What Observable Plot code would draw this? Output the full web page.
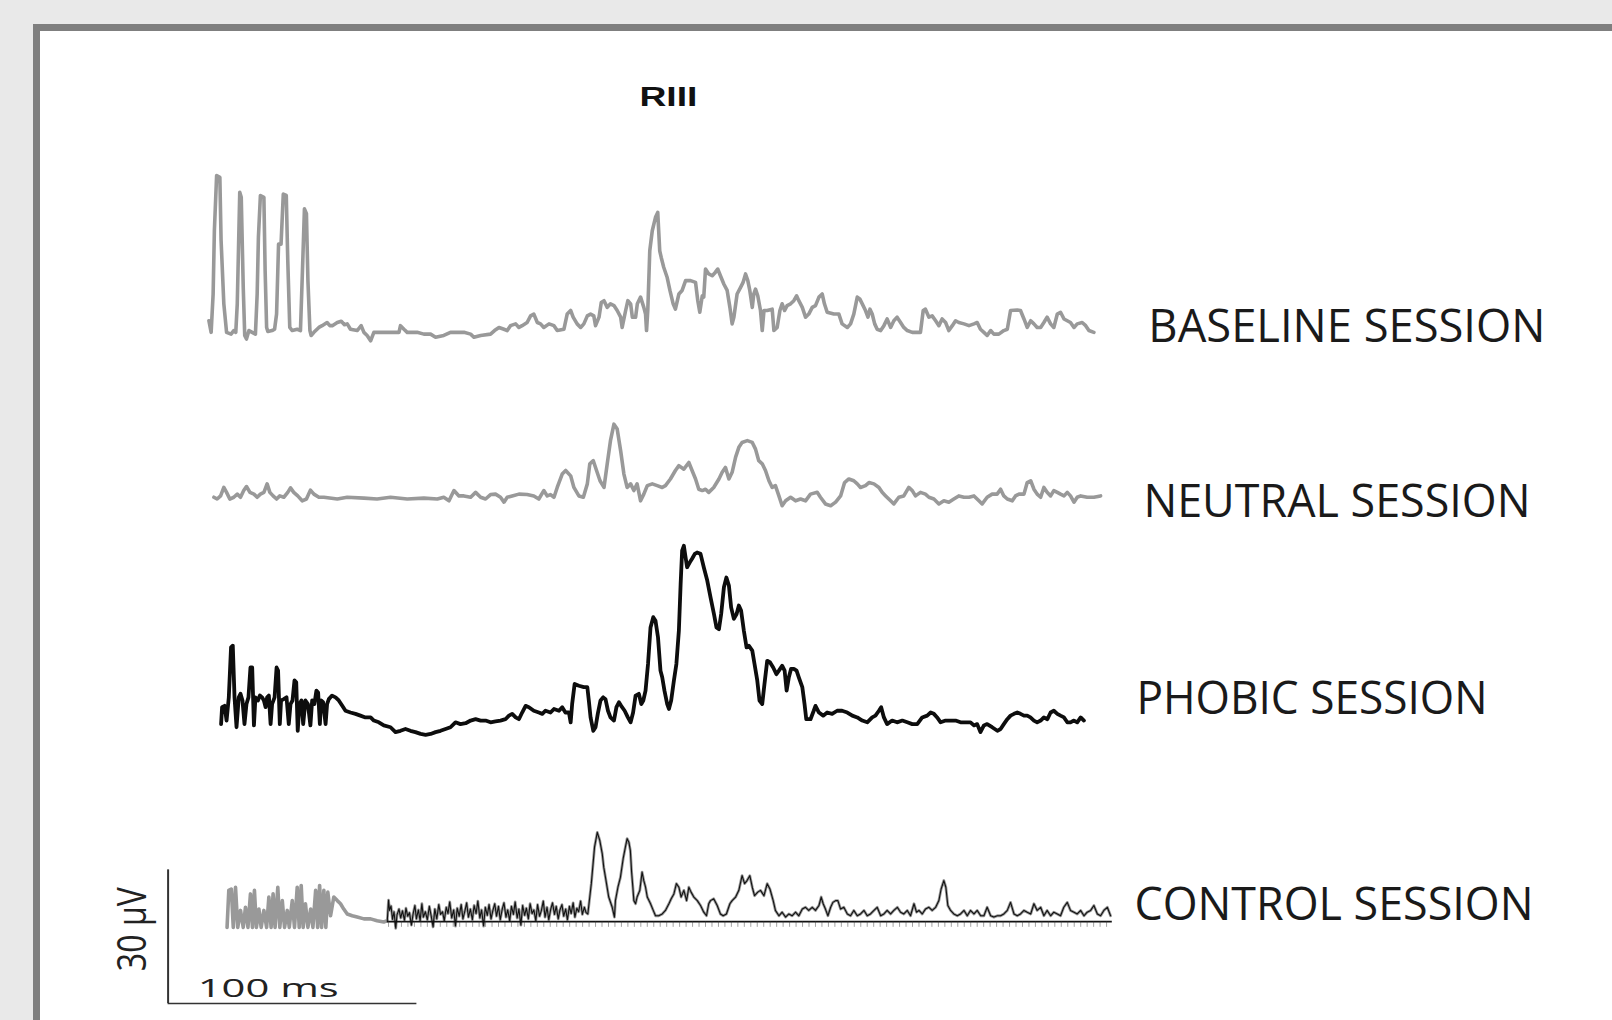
<!DOCTYPE html>
<html>
<head>
<meta charset="utf-8">
<script src="https://cdn.jsdelivr.net/npm/d3@7"></script>
<script src="https://cdn.jsdelivr.net/npm/@observablehq/plot@0.6"></script>
<style>
  html, body { margin: 0; padding: 0; background: #e9e9e9; width: 1612px; height: 1020px; overflow: hidden; }
  #frame { position: absolute; left: 33px; top: 24px; width: 1700px; height: 1100px; background: #ffffff;
           border-left: 7px solid #7f7f7f; border-top: 7px solid #7f7f7f; }
  #chart { position: absolute; left: 0; top: 0; }
</style>
</head>
<body>
<div id="frame"></div>
<div id="chart"></div>
<script>
// ---------------- DATA (time in ms, amplitude in µV) ----------------
const title = "RIII";
const sessions = ["BASELINE SESSION", "NEUTRAL SESSION", "PHOBIC SESSION", "CONTROL SESSION"];
const scaleBar = {ms: 100, uv: 30, msLabel: "100 ms", uvLabel: "30 µV"};

const baselineTrace = [
[16.4,2.6],[17.3,0],[18.1,8.6],[18.6,22.8],[19.5,35.2],[20.8,34.8],[21.3,20.6],[22.4,6.4],[23.5,0],[25.3,-0.4],[26.4,0.4],
[27.2,0],[27.8,6.4],[28.8,31.4],[29.4,30.3],[30.2,10.1],[30.8,-0.7],[31.5,-1.5],[32.5,0.4],[33.8,0],
[35.1,-0.4],[35.8,8.6],[36.3,21.3],[37.1,30.7],[38.5,30.3],[39.0,13.8],[39.6,1.1],[40.1,0.2],[41.8,0.4],
[42.8,0.7],[43.6,4.1],[44.4,19.8],[45.4,19.8],[46.3,31.0],[47.5,30.7],[48.1,16.1],[48.9,1.1],[49.9,0.4],[51.9,0.7],
[53.2,0.4],[54.0,13.8],[54.8,27.7],[55.6,26.6],[56.2,11.6],[57.0,0.4],[57.5,-0.7],
[58.6,0],[60.6,1.1],[61.9,1.5],[63.9,2.2],[65.0,1.5],[66.0,1.5],[68.0,2.2],[69.6,2.5],[70.9,1.7],[72.0,1.9],[73.3,0.7],[76.0,0.4],[77.6,1.5],[78.7,0],[80.0,-0.7],[81.4,-1.9],[82.7,0],[84.7,0],[89.4,0],[92.8,0],[93.4,1.5],[94.8,0.7],[96.1,0],[100.1,0],[102.8,-0.4],[105.5,-0.4],[107.5,-1.1],[110.8,-0.7],[113.5,0],[118.9,0],[121.6,-0.4],[122.9,-1.1],[125.6,-0.7],[129.6,-0.4],[131.2,0.4],[133.0,1.1],[135.0,0.7],[136.3,0.4],[137.6,1.5],[139.7,1.9],[141.0,1.1],[142.3,1.5],[144.3,2.2],[145.7,3.7],[147.0,4.1],[148.4,2.2],[149.7,1.9],[151.0,1.1],[153.1,1.9],[155.1,1.5],[156.4,0.4],[159.1,0.7],[160.4,4.1],[161.8,4.9],[162.8,3.4],[164.4,1.9],[165.8,1.1],[167.1,1.9],[168.5,3.7],[169.8,4.1],[171.1,3.7],[171.8,1.5],[173.2,3.4],[174.1,6.7],[175.2,7.1],[176.5,5.6],[177.8,6.4],[179.2,6.0],[180.5,4.9],[181.9,3.4],[182.5,1.1],[183.9,4.9],[184.8,7.1],[185.9,6.4],[186.6,3.4],[187.9,3.4],[188.6,6.4],[189.9,7.9],[191.2,5.6],[191.9,4.1],
[192.3,0.4],[192.8,4.9],[193.6,18.3],[194.6,22.8],[195.9,25.8],[196.8,26.9],[197.6,18.3],[198.2,16.8],[199.2,14.6],[200.6,12.3],[201.7,9.4],[203.0,6.4],[203.9,5.2],[205.3,8.6],[206.6,9.4],[208.0,11.6],[210.0,11.6],[212.0,11.2],[212.9,7.1],[213.7,4.5],[214.7,8.2],[215.3,7.9],[216.0,14.2],[217.3,13.1],[218.7,12.7],[220.0,13.5],[220.9,14.2],[222.0,12.7],[223.4,10.8],[224.7,9.4],[225.8,5.6],[226.7,1.9],[227.4,3.4],[228.7,8.6],[230.1,10.1],[231.1,11.2],[232.1,13.1],[233.0,11.6],[233.8,9.4],[234.8,5.6],[235.4,8.6],[236.1,9.7],[237.0,8.2],[238.1,4.9],[238.8,0.4],[239.5,4.9],[240.8,4.9],[242.8,5.2],[243.5,0.4],[244.8,1.1],[245.9,4.9],[246.8,6.4],[247.8,4.9],[248.8,6.0],[250.2,6.4],[251.5,7.1],[252.6,8.2],[253.5,7.1],[254.9,5.6],[256.2,3.4],[257.5,4.1],[258.9,5.6],[260.2,6.0],[261.6,7.9],[262.9,8.6],[263.8,6.4],[264.9,4.5],[267.6,4.1],[269.6,4.1],[270.9,1.9],[273.0,1.1],[274.3,1.9],[275.6,4.1],[277.0,7.9],[278.0,7.5],[279.0,6.4],[280.3,4.9],[281.3,3.4],[282.1,5.2],[283.0,4.1],[284.0,1.9],[285.0,0.7],[286.4,0.4],[287.7,1.5],[289.0,3.0],[290.4,1.1],[291.7,2.6],[293.0,3.4],[294.4,2.2],[295.7,1.1],[297.1,0.4],[299.1,0],[302.4,0],[303.5,4.9],[304.4,5.2],[305.8,3.4],[307.1,3.7],[308.5,2.6],[309.8,1.5],[311.1,3.0],[312.5,2.2],[313.8,0.4],[315.2,1.5],[316.5,2.6],[317.8,2.2],[319.9,1.9],[321.9,1.5],[323.9,1.9],[325.2,2.2],[326.5,0.7],[327.9,0],[329.2,-0.7],[330.6,0.4],[331.9,-0.4],[333.9,-0.4],[335.9,0.4],[337.3,0.7],[338.6,4.9],[341.3,5.0],[342.6,4.9],[344.0,3.0],[345.3,1.1],[346.7,2.6],[348.0,1.9],[349.3,1.1],[350.7,1.1],[352.0,2.2],[353.3,3.4],[354.7,1.9],[356.0,1.1],[357.4,4.1],[358.7,4.5],[360.1,3.0],[361.4,2.6],[362.7,2.2],[364.1,1.1],[365.4,1.9],[367.4,2.2],[368.8,1.5],[370.1,0.4],[372.1,0]
];

const neutralTrace = [
[18.4,0.1],[19.7,-0.3],[21.1,0.4],[22.4,2.3],[23.5,1.2],[24.8,-0.3],[26.4,0.1],[27.8,0.8],[29.1,0.1],[30.4,1.6],[31.5,2.5],[32.9,1.2],[34.5,0.8],[35.8,0.1],[37.1,0.8],[38.5,1.2],[39.8,3.1],[40.9,1.2],[42.2,0.4],[43.6,-0.3],[44.9,0.4],[46.5,0.1],[48.1,1.2],[49.2,2.2],[50.5,1.2],[52.1,0.4],[53.9,-0.7],[55.6,-0.3],[57.2,1.7],[58.6,0.8],[60.6,0.1],[62.6,0.1],[68.0,-0.3],[72.0,0.1],[78.7,-0.1],[84.0,-0.3],[89.4,0.1],[96.1,-0.3],[102.8,-0.1],[108.2,-0.3],[110.8,0.1],[112.9,-0.7],[114.9,1.6],[116.9,0.4],[118.9,0.4],[121.6,0.1],[123.6,1.2],[125.6,0.1],[127.6,-0.3],[129.6,0.7],[131.6,0.8],[133.6,0.1],[135.0,-1.0],[136.3,0.1],[138.3,0.4],[141.0,0.8],[144.3,0.7],[147.0,0.4],[149.0,-0.3],[151.0,1.6],[152.4,0.4],[153.7,0.7],[155.1,0.1],[156.4,2.3],[158.4,5.3],[159.8,6.1],[161.8,4.9],[163.1,2.3],[165.1,0.4],[166.9,0.1],[168.5,3.1],[169.5,7.6],[170.9,8.3],[172.2,6.1],[173.6,3.8],[175.2,2.3],[176.5,7.6],[177.8,12.8],[179.2,16.5],[180.5,15.4],[181.9,10.5],[183.2,5.3],[184.5,2.3],[185.9,3.1],[187.2,1.6],[188.5,3.1],[189.9,-0.7],[191.2,0.8],[192.6,2.7],[194.6,3.1],[196.6,2.7],[198.6,2.3],[199.9,2.7],[201.9,4.2],[203.9,6.1],[205.3,7.2],[207.3,6.4],[209.3,7.9],[210.6,6.1],[212.0,4.2],[213.3,1.9],[214.7,1.6],[216.0,1.9],[217.3,1.2],[219.3,2.3],[221.4,4.2],[222.7,5.7],[224.0,6.8],[225.4,4.2],[226.7,5.7],[228.1,9.1],[229.4,11.3],[230.7,12.4],[232.8,12.8],[234.8,12.4],[236.1,10.9],[237.4,8.3],[238.8,7.6],[240.1,6.1],[241.5,3.8],[242.8,2.3],[244.1,2.7],[245.5,0.4],[246.8,-1.8],[248.2,-0.7],[250.2,0.1],[252.2,-0.7],[254.2,-0.3],[256.2,-0.7],[258.2,0.8],[260.9,1.2],[262.2,0.1],[264.2,-1.4],[266.3,-1.8],[268.3,-1.0],[270.3,0.4],[271.9,3.4],[273.6,4.2],[275.6,3.8],[277.0,3.1],[278.3,2.3],[280.3,2.7],[281.7,3.4],[283.7,3.1],[285.7,2.3],[287.0,1.2],[288.4,0.4],[290.4,-0.7],[291.7,-1.4],[293.7,0.1],[295.7,0.4],[297.7,2.3],[299.1,1.6],[300.4,0.4],[302.4,1.2],[304.4,0.8],[305.8,0.1],[307.8,-0.3],[309.8,-1.4],[311.8,-0.7],[313.8,-1.0],[315.8,-0.3],[317.8,0.4],[319.9,0.1],[321.9,0.1],[323.9,0.4],[325.9,-0.7],[327.2,-1.4],[329.2,0.1],[331.2,0.8],[333.2,0.8],[334.6,1.9],[335.9,0.4],[337.3,-0.3],[339.3,-0.7],[340.6,0.4],[342.0,0.8],[344.0,0.8],[345.3,3.4],[346.7,3.8],[348.0,1.9],[349.3,0.8],[350.7,0.1],[352.0,2.3],[353.3,1.2],[354.7,0.4],[356.0,1.6],[357.4,1.2],[358.7,0.8],[360.1,0.4],[361.4,1.2],[362.7,0.4],[364.1,-1.0],[365.4,0.1],[366.8,0.4],[369.4,0.1],[372.1,0.1],[374.8,0.4]
];

const phobicTrace = [
[21.3,-0.4],[21.7,3.4],[22.7,3.7],[23.5,0.4],[24.4,5.6],[25.3,16.8],[26.0,17.2],[26.7,5.6],[27.5,-1.1],[28.4,5.6],[29.1,6.4],[29.9,4.9],[30.7,-0.4],[31.5,4.1],[32.3,5.6],[33.1,12.3],[33.8,12.3],[34.5,-0.7],[35.1,5.6],[36.1,4.9],[36.9,6.0],[37.8,5.6],[38.5,4.9],[39.2,3.4],[39.8,5.6],[40.5,6.0],[41.2,-0.4],[41.8,4.1],[42.8,5.6],[43.6,12.3],[44.2,11.6],[44.9,-0.4],[45.4,4.9],[46.5,5.2],[47.6,5.6],[48.5,-0.4],[49.2,4.1],[50.0,4.9],[50.8,9.4],[51.5,9.0],[52.1,-1.9],[52.8,4.1],[53.6,4.9],[54.3,-0.4],[55.2,4.9],[56.2,4.1],[57.2,-0.7],[57.9,4.9],[58.8,4.1],[59.6,7.1],[60.3,6.7],[61.0,-0.4],[61.5,4.9],[62.3,4.5],[63.3,-0.4],[63.9,4.1],[64.6,5.2],[65.9,6.0],[67.3,5.6],[68.6,4.9],[70.0,3.7],[71.3,2.6],[73.3,2.2],[75.3,1.9],[77.3,1.5],[79.3,1.1],[81.4,1.1],[82.7,0.4],[84.7,0],[86.7,-0.7],[89.4,-1.1],[91.4,-2.2],[93.4,-1.9],[95.4,-1.5],[97.4,-1.9],[99.4,-2.2],[101.5,-2.6],[103.5,-2.8],[105.5,-2.6],[107.5,-2.2],[109.5,-1.9],[111.5,-1.5],[113.5,-1.1],[115.5,0],[117.5,-0.4],[119.6,-0.2],[121.6,0.4],[123.6,0.7],[125.6,0.4],[127.6,0.4],[129.6,0],[131.6,0.2],[133.6,0.4],[135.6,0.7],[137.0,1.5],[138.3,1.9],[139.7,1.1],[141.0,0.7],[142.3,2.2],[143.7,3.7],[145.0,3.4],[147.0,2.6],[149.0,2.2],[150.4,1.9],[151.7,2.6],[153.7,2.2],[155.1,3.0],[157.1,2.6],[158.4,3.4],[159.7,2.2],[161.1,2.2],[161.8,0],[162.4,4.1],[163.4,8.6],[165.1,8.2],[167.1,7.9],[168.5,7.9],[169.1,4.9],[169.8,1.1],[170.9,-1.9],[171.8,-1.1],[172.7,1.9],[173.8,4.9],[174.9,5.6],[175.8,5.2],[176.8,2.6],[177.8,1.1],[179.2,0.4],[180.2,3.4],[181.2,4.5],[182.1,3.7],[183.5,2.6],[184.8,1.1],[185.9,0],[186.9,2.2],[187.9,6.0],[189.2,6.4],[190.2,4.1],[191.0,4.9],[191.9,7.1],[192.9,13.1],[193.9,21.3],[195.0,23.6],[195.9,22.8],[196.9,19.1],[197.9,11.6],
[198.6,10.1],[199.5,7.1],[200.6,4.1],[201.3,3.0],[202.2,4.9],[203.3,9.4],[204.3,13.1],[205.3,20.6],[206.0,31.0],[206.6,38.5],[207.3,39.6],[208.0,37.0],[208.6,34.8],[209.7,35.9],[210.6,36.7],[211.7,37.8],[212.6,38.1],[214.0,37.8],[215.3,34.8],[216.7,31.8],[218.0,28.1],[219.4,24.3],[220.4,21.3],[221.4,20.9],[222.3,24.3],[223.4,30.3],[224.4,32.5],[225.4,30.7],[226.3,25.8],[227.4,23.2],[228.5,24.3],[229.4,26.2],[230.3,25.1],[231.4,20.6],[232.5,16.8],[233.4,17.2],[234.8,16.1],[235.7,13.1],[236.8,9.4],[237.7,4.9],[238.8,4.1],[239.7,8.6],[240.8,13.8],[241.9,13.5],[243.2,12.3],[244.5,10.8],[245.5,11.6],[246.8,12.7],[247.8,11.6],[248.6,7.1],[249.5,10.1],[250.4,12.0],[251.5,12.0],[252.6,11.6],[253.5,10.1],[254.9,7.9],[255.8,4.1],[256.5,0.7],[258.2,0.7],[259.5,2.6],[260.2,3.7],[261.6,2.2],[263.3,1.5],[264.9,2.2],[266.9,1.9],[268.9,2.6],[270.9,2.6],[273.0,2.2],[275.0,1.5],[277.0,1.1],[279.0,0.4],[281.0,0],[283.0,1.1],[284.3,1.5],[285.7,2.6],[286.6,3.4],[287.7,1.1],[289.0,-0.4],[291.0,0.4],[293.0,0],[295.1,0.4],[297.1,0],[299.1,-0.4],[301.1,-0.4],[303.1,1.1],[305.1,1.5],[306.5,2.2],[307.8,1.9],[309.1,1.1],[310.5,0],[312.5,0.4],[314.5,0.4],[316.5,0.4],[318.5,0],[320.5,0],[322.5,0],[323.9,-0.7],[325.2,-0.4],[326.5,-2.2],[327.9,-0.7],[329.2,-0.4],[331.2,-1.1],[333.3,-1.9],[334.6,-1.5],[335.9,-0.4],[337.3,0.7],[338.6,1.5],[340.0,1.9],[341.3,2.2],[342.6,1.9],[344.0,1.5],[345.3,1.5],[346.6,1.1],[348.0,0.4],[349.3,0],[350.7,0.4],[352.0,1.1],[353.4,0.7],[354.7,2.2],[356.0,2.6],[357.4,1.9],[358.7,1.5],[360.1,1.1],[361.4,0],[362.7,0],[364.1,0.4],[365.4,0],[366.8,1.1],[368.1,0.4]
];

// control session: stimulus artefact (grey only) then the recorded response
const controlArtifact = [
[23.7,-1.3],[24.4,7.0],[25.4,7.3],[26.2,-1.3],[27.1,7.7],[28.0,-1.3],[29.1,2.5],[30.2,-1.3],[31.1,3.2],[32.1,-1.3],[33.1,6.2],[33.9,-1.3],[34.7,7.0],[35.5,-1.3],[36.5,2.8],[37.4,-1.3],[38.5,2.5],[39.6,-1.3],[40.5,5.5],[41.4,-1.3],[42.2,6.2],[43.0,-1.3],[44.1,7.7],[44.9,-1.3],[45.9,4.7],[46.8,-1.3],[47.9,2.5],[48.7,-1.3],[49.9,4.7],[50.8,-1.3],[51.9,7.7],[52.7,-1.3],[53.5,8.1],[54.3,-1.3],[55.2,4.0],[56.2,-1.3],[57.3,2.8],[58.2,-1.3],[59.3,7.0],[60.1,-1.3],[60.9,8.1],[61.7,-1.3],[62.6,7.0],[63.4,-1.3],[64.2,6.6],[65.3,1.3],[66.6,5.5],[68.0,4.7],[69.3,4.0],[70.6,2.8],[72.0,1.7],[74.0,1.3],[76.0,1.0],[78.7,0.6],[81.4,0.6],[84.0,0.2],[86.7,-0.1],[88.1,0.2]
];
const controlTrace = [
[88.1,0.2],[88.6,4.8],[89.0,2.5],[89.6,3.5],[90.2,0.5],[90.8,2.2],[91.5,-1.5],[92.0,1.5],[92.8,2.8],[93.5,0.8],[94.2,2.4],[95.0,0.3],[95.6,3.0],[96.3,1.2],[97.0,2.0],[97.8,-0.8],[98.5,1.8],[99.2,3.6],[99.8,0.6],[100.6,2.6],[101.3,0.2],[102.0,4.0],[102.6,1.0],[103.4,2.2],[104.2,0.4],[105.0,3.4],[105.7,1.4],[106.5,-1.2],[107.2,2.8],[108.0,0.6],[108.8,3.8],[109.5,1.6],[110.3,2.2],[111.0,0.2],[111.8,3.2],[112.5,1.8],[113.2,4.4],[114.0,0.8],[114.8,2.6],[115.5,-1.0],[116.2,3.0],[117.0,1.2],[117.8,3.8],[118.5,0.6],[119.3,2.4],[120.0,4.2],[120.7,1.0],[121.5,2.8],[122.3,0.4],[123.0,3.6],[123.8,1.8],[124.5,4.6],[125.3,0.8],[126.0,2.6],[126.8,-1.0],[127.5,3.2],[128.3,1.4],[129.0,3.8],[129.8,0.6],[130.5,2.4],[131.3,4.0],[132.0,1.2],[132.8,3.4],[133.5,0.4],[134.3,2.8],[135.0,4.2],[135.8,1.0],[136.5,2.6],[137.3,0.2],[138.0,3.4],[138.8,1.6],[139.5,4.4],[140.3,0.8],[141.0,2.8],[141.8,-0.8],[142.5,3.6],[143.3,1.4],[144.0,3.0],[144.8,0.6],[145.5,4.0],[146.3,1.8],[147.0,2.6],[147.8,0.2],[148.5,3.8],[149.3,1.2],[150.0,2.4],[150.8,4.6],[151.5,1.0],[152.3,3.2],[153.0,0.4],[153.8,2.8],[154.5,4.2],[155.3,1.6],[156.0,3.4],[156.8,0.6],[157.5,2.6],[158.3,3.8],[159.0,1.2],[159.8,2.8],[160.5,0.4],[161.3,3.4],[162.0,1.8],[162.8,4.2],[163.5,1.0],[164.3,3.0],[165.0,2.2],[165.8,4.6],[166.5,1.6],[167.3,3.2],[168.0,2.0],
[168.7,1.7],[170.1,8.5],[171.4,16.7],[172.5,20.0],[173.5,18.2],[174.5,15.2],[175.1,12.2],[175.8,9.9],[177.1,5.5],[178.5,3.2],[179.4,1.0],[179.8,4.7],[180.8,7.7],[181.8,9.9],[182.9,14.1],[183.8,16.7],[184.5,18.6],[185.2,17.8],[185.8,15.9],[186.3,11.1],[186.8,7.7],[187.2,4.7],[187.9,4.0],[188.5,5.5],[189.6,7.0],[190.5,11.1],[191.2,9.2],[191.9,7.7],[192.6,5.5],[193.9,4.0],[195.0,2.5],[195.9,1.3],[197.2,1.3],[198.6,1.7],[199.9,2.5],[201.3,4.0],[202.2,5.1],[203.3,6.2],[204.3,8.5],[205.3,7.7],[206.2,5.5],[207.3,7.0],[208.4,4.7],[209.3,7.7],[210.2,6.6],[211.3,5.5],[212.7,4.7],[214.0,3.6],[215.3,2.1],[216.4,1.3],[217.3,4.0],[218.0,4.7],[219.3,5.1],[220.7,3.6],[222.0,1.7],[223.1,1.3],[224.4,1.7],[225.8,4.0],[226.7,4.7],[228.1,5.5],[229.4,7.0],[230.7,10.3],[231.7,8.5],[232.7,9.2],[233.8,10.3],[234.8,7.7],[235.7,5.8],[237.0,6.6],[238.1,7.0],[239.5,5.8],[240.8,8.5],[241.9,7.3],[243.2,4.7],[244.1,2.5],[245.5,1.3],[246.8,2.1],[248.2,1.0],[249.5,1.7],[250.8,1.3],[252.2,2.1],[253.5,1.3],[254.9,2.8],[256.2,3.2],[257.5,2.5],[258.9,3.2],[260.2,2.5],[261.6,3.6],[262.5,5.5],[263.3,4.0],[264.2,2.8],[265.2,1.3],[266.3,3.2],[267.2,4.3],[268.3,4.7],[269.2,4.7],[270.3,2.8],[271.6,3.2],[273.0,1.7],[274.3,1.3],[275.6,2.5],[277.0,1.3],[278.3,1.7],[279.7,2.5],[281.0,1.3],[282.3,1.7],[283.7,2.5],[285.0,3.2],[286.4,1.3],[287.7,1.7],[289.0,2.5],[290.4,1.7],[291.7,2.5],[293.1,3.2],[294.4,2.1],[295.7,1.7],[297.1,2.5],[298.4,1.3],[299.8,4.0],[300.8,2.1],[301.8,2.5],[303.1,1.7],[304.4,2.8],[305.8,3.2],[307.1,2.5],[308.5,3.2],[309.8,4.7],[310.7,7.3],[311.8,9.2],[312.6,7.7],[313.4,3.6],[314.5,2.5],[315.8,1.7],[317.2,1.3],[318.5,1.7],[319.9,2.5],[321.2,1.3],[322.5,2.5],[323.9,1.7],[325.2,2.5],[326.6,1.3],[327.9,1.3],[329.2,3.2],[330.6,1.3],[331.9,1.0],[333.3,1.3],[334.6,1.3],[335.9,1.7],[337.3,2.5],[338.6,4.3],[340.0,1.7],[341.3,1.3],[342.6,1.7],[344.0,2.5],[345.3,2.1],[346.7,1.7],[348.0,4.0],[349.3,2.5],[350.7,3.2],[352.0,1.3],[353.3,2.5],[354.7,1.3],[356.0,2.1],[357.4,1.7],[358.7,1.3],[360.0,3.2],[361.4,4.3],[362.7,2.5],[364.1,2.1],[365.4,1.7],[366.8,2.5],[368.1,1.3],[369.4,2.1],[370.8,2.5],[372.1,3.6],[373.5,1.7],[374.8,1.3],[376.1,2.5],[377.5,3.2],[378.8,1.3]
];

// ---------------- LAYOUT (scale calibration and placement) ----------------
const W = 1612, H = 1020;
const pxPerMs = 2.488, pxPerUv = 4.457;          // 100 ms = 249 px, 30 µV = 134 px
const originPx = 167.6;                          // left end of the time scale bar
const xDomain = [-originPx / pxPerMs, (W - originPx) / pxPerMs];
const yDomain = [0, H / pxPerUv];
const offset = {"BASELINE SESSION": 154.4, "NEUTRAL SESSION": 117.3, "PHOBIC SESSION": 66.9, "CONTROL SESSION": 22.2};
const labelPos = {
  "BASELINE SESSION": {x: 394.0, y: 155.6, w: 397},
  "NEUTRAL SESSION":  {x: 392.0, y: 116.3, w: 387},
  "PHOBIC SESSION":   {x: 389.2, y: 72.0,  w: 351},
  "CONTROL SESSION":  {x: 388.4, y: 25.8,  w: 399}
};
const barBase = 3.8;   // µV level of the scale bar corner
const grey = "#999999";

const sh = (name) => (d) => d[1] + offset[name];
const tx = (d) => d[0];

const labels = sessions.map(s => ({text: s, ...labelPos[s]}));
const ctrlLevel = offset["CONTROL SESSION"];
const ctrlStart = controlTrace[0][0], ctrlEnd = controlTrace[controlTrace.length - 1][0] + 0.7;
const ctrlTicks = d3.range(ctrlStart + 0.5, ctrlEnd, 2.6);

const chart = Plot.plot({
  width: W, height: H, margin: 0,
  style: "background: transparent; overflow: visible;",
  x: {domain: xDomain, axis: null},
  y: {domain: yDomain, axis: null},
  marks: [
    // traces
    Plot.line(baselineTrace, {x: tx, y: sh("BASELINE SESSION"), stroke: grey, strokeWidth: 3.6, strokeLinejoin: "round"}),
    Plot.line(neutralTrace, {x: tx, y: sh("NEUTRAL SESSION"), stroke: grey, strokeWidth: 3.6, strokeLinejoin: "round"}),
    Plot.line(phobicTrace, {x: tx, y: sh("PHOBIC SESSION"), stroke: "#0d0d0d", strokeWidth: 3.8, strokeLinejoin: "round"}),
    Plot.line(controlArtifact, {x: tx, y: sh("CONTROL SESSION"), stroke: grey, strokeWidth: 3.6, strokeLinejoin: "round"}),
    Plot.line(controlTrace, {x: tx, y: sh("CONTROL SESSION"), stroke: grey, strokeWidth: 2.8, strokeLinejoin: "round"}),
    Plot.ruleY([ctrlLevel], {x1: ctrlStart, x2: ctrlEnd, stroke: "#111", strokeWidth: 1.8}),
    Plot.ruleX(ctrlTicks, {x: d => d, y1: ctrlLevel, y2: ctrlLevel - 1.3, stroke: "#333", strokeWidth: 1, strokeOpacity: 0.45}),
    Plot.line(controlTrace, {x: tx, y: sh("CONTROL SESSION"), stroke: "#111", strokeWidth: 1.1, strokeLinejoin: "round"}),
    // scale bar
    Plot.ruleX([0], {y1: barBase, y2: barBase + scaleBar.uv, stroke: "#333", strokeWidth: 2}),
    Plot.ruleY([barBase], {x1: 0, x2: scaleBar.ms, stroke: "#333", strokeWidth: 1.6}),
    Plot.text([scaleBar.msLabel], {x: 11.9, y: barBase + 3.2, text: d => d, textAnchor: "start", lineAnchor: "middle",
      fontFamily: "Open Sans", fontSize: 25, fill: "#222"}),
    Plot.text([scaleBar.uvLabel], {x: -13.9, y: barBase + 16.7, text: d => d, rotate: -90, textAnchor: "middle", lineAnchor: "middle",
      fontFamily: "Open Sans", fontSize: 40, fill: "#222"}),
    // labels
    Plot.text(labels, {x: "x", y: "y", text: "text", textAnchor: "start", lineAnchor: "middle",
      fontFamily: "Open Sans", fontSize: 46, fill: "#1a1a1a"}),
    // title
    Plot.text([title], {x: 201.1, y: 207.1, text: d => d, textAnchor: "middle", lineAnchor: "middle",
      fontFamily: "Liberation Sans, Arial, sans-serif", fontWeight: "bold", fontSize: 27, fill: "#111"})
  ]
});

// stretch texts to the widths they have in the figure
const fit = {[title]: 58, [scaleBar.msLabel]: 141, [scaleBar.uvLabel]: 84};
labels.forEach(l => fit[l.text] = l.w);
chart.querySelectorAll("text").forEach(t => {
  const w = fit[t.textContent];
  if (w) { t.setAttribute("textLength", w); t.setAttribute("lengthAdjust", "spacingAndGlyphs"); }
});
document.getElementById("chart").appendChild(chart);
</script>
</body>
</html>
